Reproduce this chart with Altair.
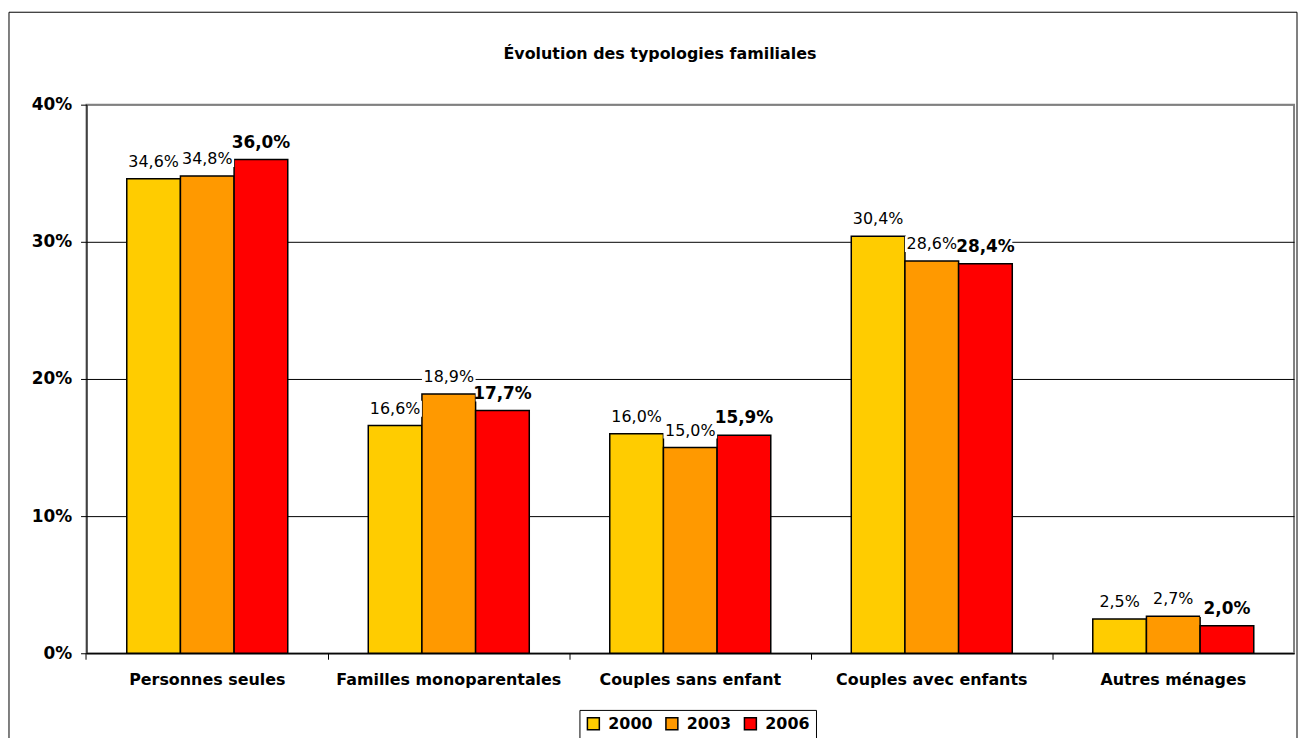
import altair as alt
import pandas as pd

categories = ["Personnes seules", "Familles monoparentales", "Couples sans enfant",
              "Couples avec enfants", "Autres ménages"]
years = ["2000", "2003", "2006"]
v2000 = [34.6, 16.6, 16.0, 30.4, 2.5]
v2003 = [34.8, 18.9, 15.0, 28.6, 2.7]
v2006 = [36.0, 17.7, 15.9, 28.4, 2.0]
colors = ["#FFCC00", "#FF9900", "#FF0000"]
y_ticks = [0, 0.1, 0.2, 0.3, 0.4]
title_text = "Évolution des typologies familiales"

rows = []
for yr, vals in zip(years, [v2000, v2003, v2006]):
    for c, v in zip(categories, vals):
        rows.append({"cat": c, "year": yr, "value": v / 100,
                     "label": f"{v:.1f}".replace(".", ",") + "%"})
df = pd.DataFrame(rows)

W, H = 1215, 552
FONT = "DejaVu Sans"

x_enc = alt.X(
    "cat:N", sort=categories,
    scale=alt.Scale(paddingInner=1 / 3, paddingOuter=1 / 6),
    axis=alt.Axis(title=None, labelAngle=0, bandPosition=-0.25,
                  ticks=True, tickSize=6, tickColor="black", domainColor="black",
                  labelFont=FONT, labelFontSize=16, labelFontWeight="bold",
                  labelColor="black", labelPadding=12, labelLimit=400, grid=False),
)
xoff_enc = alt.XOffset("year:N", sort=years, scale=alt.Scale(paddingInner=0, paddingOuter=0))
y_enc = alt.Y(
    "value:Q",
    scale=alt.Scale(domain=[0, 0.4], nice=False),
    axis=alt.Axis(title=None, values=y_ticks, format=".0%", tickSize=6, tickColor="black",
                  domainColor="black", labelFont=FONT, labelFontSize=17,
                  labelFontWeight="bold", labelColor="black", labelPadding=9,
                  grid=True,
                  gridColor={"condition": {"test": "datum.value >= 0.39", "value": "#808080"},
                             "value": "black"},
                  gridWidth=1),
)
color_enc = alt.Color(
    "year:N", sort=years,
    scale=alt.Scale(domain=years, range=colors),
    legend=alt.Legend(title=None, orient="none", legendX=496, legendY=609,
                      direction="horizontal", symbolType="square", symbolSize=144,
                      symbolStrokeColor="black", symbolStrokeWidth=1.5, symbolOpacity=1,
                      labelFont=FONT, labelFontSize=16, labelFontWeight="bold",
                      labelColor="black", labelOffset=7, columnPadding=10,
                      padding=6, strokeColor="black", fillColor="white"),
)

base = alt.Chart(df)

bars = base.mark_bar(stroke="black", strokeWidth=1.5).encode(
    x=x_enc, xOffset=xoff_enc, y=y_enc, color=color_enc
)

boxes = base.mark_bar(color="white", yOffset=-9, y2Offset=-25).encode(
    x=x_enc, xOffset=xoff_enc, y=y_enc, y2=alt.Y2("value:Q")
)

labels_normal = base.transform_filter(alt.datum.year != "2006").mark_text(
    dy=-17, baseline="middle", font=FONT, fontSize=16, color="black"
).encode(x=x_enc, xOffset=xoff_enc, y=y_enc, text="label:N")

labels_bold = base.transform_filter(alt.datum.year == "2006").mark_text(
    dy=-17, baseline="middle", font=FONT, fontSize=17, fontWeight="bold", color="black"
).encode(x=x_enc, xOffset=xoff_enc, y=y_enc, text="label:N")

one = pd.DataFrame({"t": [title_text]})
frame = alt.Chart(one).mark_rect(fill="transparent", stroke="black", strokeWidth=1).encode(
    x=alt.value(-78), x2=alt.value(W + 3), y=alt.value(-93), y2=alt.value(H + 100)
)
title = alt.Chart(one).mark_text(
    font=FONT, fontSize=16, fontWeight="bold", color="black", align="center",
    baseline="alphabetic"
).encode(x=alt.value(577), y=alt.value(-46), text="t:N")

chart = alt.layer(frame, bars, boxes, labels_normal, labels_bold, title).properties(
    width=W, height=H,
    padding={"left": 79, "top": 95, "right": 4, "bottom": 83},
    autosize=alt.AutoSizeParams(type="none"),
    background="white",
).configure_view(stroke="#808080", strokeWidth=2)

chart.save("out.html", embed_options={"renderer": "svg", "actions": False})
